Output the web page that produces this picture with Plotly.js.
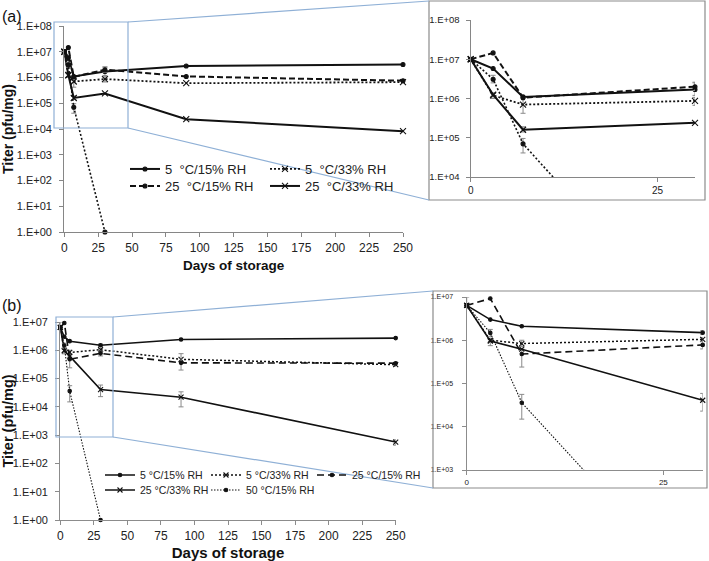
<!DOCTYPE html>
<html><head><meta charset="utf-8">
<script src="https://cdn.plot.ly/plotly-3.0.1.min.js"></script>
<style>html,body{margin:0;padding:0;background:#fff}#chart{width:709px;height:561px}</style>
</head><body><div id="chart"></div>
<script>
// ---------- data ----------
const yTickVals = [1, 10, 100, 1e3, 1e4, 1e5, 1e6, 1e7, 1e8];
const yTickText = ["1.E+00","1.E+01","1.E+02","1.E+03","1.E+04","1.E+05","1.E+06","1.E+07","1.E+08"];
const xTicksMain = [0, 25, 50, 75, 100, 125, 150, 175, 200, 225, 250];
const xTicksInset = [0, 25];

const namesA = ["5\u00a0 °C/15% RH", "5\u00a0 °C/33% RH", "25\u00a0 °C/15% RH", "25\u00a0 °C/33% RH", "50 °C/15% RH"];
const namesB = ["5 °C/15% RH", "5 °C/33% RH", "25 °C/15% RH", "25 °C/33% RH", "50 °C/15% RH"];

// panel (a)
const daysA   = [0, 3, 7, 30, 90, 250];
const a_5c15  = [1.0e7, 5.8e6, 1.1e6, 1.7e6, 2.8e6, 3.2e6];
const a_5c33  = [1.0e7, 1.2e6, 7.0e5, 8.7e5, 6.0e5, 6.6e5];
const a_25c15 = [1.0e7, 1.45e7, 1.05e6, 2.0e6, 1.1e6, 7.5e5];
const a_25c33 = [1.0e7, 1.25e6, 1.6e5, 2.4e5, 2.4e4, 8.2e3];
const daysA50 = [0, 3, 7, 30];
const a_50c15 = [1.0e7, 3.1e6, 7.0e4, 1];
// error bars (a)  (NaN = none)
const aErr_5c15_p  = [NaN, NaN, NaN, 8e5, NaN, NaN];
const aErr_5c15_m  = [NaN, NaN, NaN, 5e5, NaN, NaN];
const aErr_5c33_p  = [NaN, 2e5, 3.5e5, 2e5, NaN, NaN];
const aErr_5c33_m  = [NaN, 2e5, 2.8e5, 2e5, NaN, NaN];
const aErr_25c15_p = [NaN, NaN, NaN, 6e5, NaN, NaN];
const aErr_25c15_m = [NaN, NaN, NaN, 4e5, NaN, NaN];
const aErr_25c33_p = [NaN, NaN, 3e4, NaN, NaN, NaN];
const aErr_25c33_m = [NaN, NaN, 2e4, NaN, NaN, NaN];
const aErr_50c15_p = [NaN, 8e5, 2.6e4, NaN];
const aErr_50c15_m = [NaN, 6e5, 2.9e4, NaN];

// panel (b)
const daysB   = [0, 3, 7, 30, 90, 250];
const b_5c15  = [6.4e6, 3.0e6, 2.1e6, 1.5e6, 2.4e6, 2.7e6];
const b_5c33  = [6.4e6, 1.0e6, 8.4e5, 1.05e6, 4.8e5, 3.1e5];
const b_25c15 = [6.4e6, 9.2e6, 4.8e5, 7.8e5, 3.6e5, 3.5e5];
const b_25c33 = [6.4e6, 9.6e5, 6.2e5, 4.1e4, 2.2e4, 5.7e2];
const daysB50 = [0, 3, 7, 30];
const b_50c15 = [6.4e6, 1.48e6, 3.6e4, 1];
// error bars (b)
const bErr_5c15_p  = [3.6e6, NaN, NaN, 1.5e5, NaN, NaN];
const bErr_5c15_m  = [1.0e6, NaN, NaN, 1.5e5, NaN, NaN];
const bErr_5c33_p  = [NaN, 1e5, 1.6e5, 1e5, NaN, 4e4];
const bErr_5c33_m  = [NaN, 2.5e5, 1.3e5, 1e5, NaN, 4e4];
const bErr_25c15_p = [NaN, NaN, 1.5e5, 1.5e5, 4e5, NaN];
const bErr_25c15_m = [NaN, NaN, 2.4e5, 1.5e5, 1.6e5, NaN];
const bErr_25c33_p = [NaN, NaN, NaN, 1.8e4, 1.2e4, 1.2e2];
const bErr_25c33_m = [NaN, NaN, NaN, 1.8e4, 1.2e4, 1.3e2];
const bErr_50c15_p = [NaN, 3e5, 2e4, NaN];
const bErr_50c15_m = [NaN, 2.8e5, 2.1e4, NaN];

// ---------- layout helpers ----------
const W = 709, H = 561;
const px = v => v / W;
const py = v => 1 - v / H;
const FONT = "Liberation Sans, Arial, sans-serif";

const stylesA = [
  {dash: 'solid', width: 2, symbol: 'circle', msize: 4},
  {dash: '2px,2px', width: 1.8, symbol: 'x-thin-open', msize: 6},
  {dash: '6px,3px', width: 2, symbol: 'circle', msize: 4},
  {dash: 'solid', width: 2, symbol: 'x-thin-open', msize: 6},
  {dash: '2px,2px', width: 1.6, symbol: 'circle', msize: 4}
];
const stylesB = [
  {dash: 'solid', width: 1.6, symbol: 'circle', msize: 3.5},
  {dash: '2px,2px', width: 1.5, symbol: 'x-thin-open', msize: 5},
  {dash: '7px,4px', width: 1.6, symbol: 'circle', msize: 3.5},
  {dash: 'solid', width: 1.6, symbol: 'x-thin-open', msize: 5},
  {dash: '1.5px,1.5px', width: 1.1, symbol: 'circle', msize: 3.5}
];

function tr(x, y, ep, em, s, name, xa, ya, legendName) {
  return {
    type: 'scatter', mode: 'lines+markers', x: x, y: y, name: name,
    xaxis: xa, yaxis: ya, cliponaxis: false,
    line: {color: '#111', width: s.width, dash: s.dash},
    marker: {symbol: s.symbol, size: s.msize, color: '#111', line: {color: '#111', width: 1.1}},
    error_y: {type: 'data', symmetric: false, array: ep, arrayminus: em, color: '#8a8a8a', thickness: 1, width: 2.5},
    showlegend: !!legendName, legend: legendName || 'legend'
  };
}

const A = [
  [daysA, a_5c15, aErr_5c15_p, aErr_5c15_m],
  [daysA, a_5c33, aErr_5c33_p, aErr_5c33_m],
  [daysA, a_25c15, aErr_25c15_p, aErr_25c15_m],
  [daysA, a_25c33, aErr_25c33_p, aErr_25c33_m],
  [daysA50, a_50c15, aErr_50c15_p, aErr_50c15_m]
];
const B = [
  [daysB, b_5c15, bErr_5c15_p, bErr_5c15_m],
  [daysB, b_5c33, bErr_5c33_p, bErr_5c33_m],
  [daysB, b_25c15, bErr_25c15_p, bErr_25c15_m],
  [daysB, b_25c33, bErr_25c33_p, bErr_25c33_m],
  [daysB50, b_50c15, bErr_50c15_p, bErr_50c15_m]
];
const legA = ['legend', 'legend2', 'legend3', 'legend4', null];
const legB = ['legend5', 'legend6', 'legend7', 'legend8', 'legend9'];

const data = [];
A.forEach((s, i) => data.push(tr(s[0], s[1], s[2], s[3], stylesA[i], namesA[i], 'x', 'y', legA[i])));
A.forEach((s, i) => data.push(tr(s[0], s[1], s[2], s[3], stylesA[i], namesA[i], 'x2', 'y2', null)));
B.forEach((s, i) => data.push(tr(s[0], s[1], s[2], s[3], stylesB[i], namesB[i], 'x3', 'y3', legB[i])));
B.forEach((s, i) => data.push(tr(s[0], s[1], s[2], s[3], stylesB[i], namesB[i], 'x4', 'y4', null)));

function xax(domain, range, ticks, size, color, title) {
  const o = {domain: domain, range: range, tickvals: ticks, ticktext: ticks.map(String),
    showline: true, linecolor: color, linewidth: 1.2, ticks: 'outside', ticklen: 4, tickcolor: color,
    showgrid: false, zeroline: false, tickfont: {family: FONT, size: size, color: '#222'}, automargin: false,
    fixedrange: true};
  if (title) o.title = title;
  return o;
}
function yax(domain, range, anchor, size, color, title, standoff) {
  const o = {type: 'log', domain: domain, range: range, anchor: anchor, tickvals: yTickVals, ticktext: yTickText,
    showline: true, linecolor: color, linewidth: 1.2, ticks: 'outside', ticklen: 4, tickcolor: color,
    showgrid: false, zeroline: false, tickfont: {family: FONT, size: size, color: '#222'}, automargin: false,
    ticklabelstandoff: standoff || 3, fixedrange: true};
  if (title) o.title = title;
  return o;
}

function leg(textX, yc, size) {
  return {x: px(textX - 40), xanchor: 'left', y: py(yc), yanchor: 'middle', bgcolor: 'rgba(0,0,0,0)',
    borderwidth: 0, font: {family: FONT, size: size, color: '#222'}, itemwidth: 30, orientation: 'v'};
}

const blue = '#8fb0d6';
const gray = '#8c8c8c';
function rect(x0, y0, x1, y1, color) {
  return {type: 'rect', xref: 'paper', yref: 'paper', x0: px(x0), x1: px(x1), y0: py(y1), y1: py(y0),
    line: {color: color, width: 1.2}, fillcolor: 'rgba(0,0,0,0)', layer: 'above'};
}
function seg(x0, y0, x1, y1) {
  return {type: 'line', xref: 'paper', yref: 'paper', x0: px(x0), x1: px(x1), y0: py(y0), y1: py(y1),
    line: {color: blue, width: 1.2}, layer: 'above'};
}

const layout = {
  width: W, height: H, margin: {l: 0, r: 0, t: 0, b: 0}, paper_bgcolor: '#fff', plot_bgcolor: 'rgba(0,0,0,0)',
  font: {family: FONT, color: '#222'},
  xaxis: xax([px(64.3), px(403)], [0, 250], xTicksMain, 12, '#868686',
    {text: 'Days of storage', font: {family: FONT, size: 13.5, weight: 'bold', color: '#111'}, standoff: 7}),
  yaxis: yax([py(232), py(26)], [0, 8], 'x', 11, '#868686',
    {text: 'Titer (pfu/mg)', font: {family: FONT, size: 14, weight: 'bold', color: '#111'}, standoff: 4}, 5),
  xaxis2: Object.assign(xax([px(470.7), px(695)], [0, 30], xTicksInset, 10, '#868686'), {anchor: 'y2'}),
  yaxis2: yax([py(177), py(20)], [4, 8], 'x2', 9.5, '#868686', null, 4),
  xaxis3: Object.assign(xax([px(60.3), px(395.7)], [0, 250], xTicksMain, 12, '#8c8c8c',
    {text: 'Days of storage', font: {family: FONT, size: 15, weight: 'bold', color: '#111'}, standoff: 6}), {anchor: 'y3'}),
  yaxis3: yax([py(520), py(322)], [0, 7], 'x3', 11, '#8c8c8c',
    {text: 'Titer (pfu/mg)', font: {family: FONT, size: 14.5, weight: 'bold', color: '#111'}, standoff: 3}, 5),
  xaxis4: Object.assign(xax([px(466.7), px(702.7)], [0, 30], xTicksInset, 8, '#8c8c8c'), {anchor: 'y4'}),
  yaxis4: yax([py(470), py(297)], [3, 7], 'x4', 7, '#8c8c8c', null, 7),
  legend: leg(165, 169, 13),
  legend2: leg(305, 169, 13),
  legend3: leg(165, 186, 13),
  legend4: leg(305, 186, 13),
  legend5: leg(140, 475, 10.5),
  legend6: leg(246, 475, 10.5),
  legend7: leg(352, 475, 10.5),
  legend8: leg(140, 490, 10.5),
  legend9: leg(246, 490, 10.5),
  shapes: [
    rect(429, 1, 705, 200, gray),
    rect(54, 22, 128, 128, blue),
    seg(128, 22, 429, 1),
    seg(128, 128, 429, 200),
    rect(433, 291, 707, 488, gray),
    rect(56, 317, 113, 437, blue),
    seg(113, 317, 433, 291),
    seg(113, 437, 433, 488)
  ],
  annotations: [
    {text: '(a)', xref: 'paper', yref: 'paper', x: 0, y: py(16), xanchor: 'left', yanchor: 'middle', showarrow: false,
      font: {family: FONT, size: 16, color: '#111'}},
    {text: '(b)', xref: 'paper', yref: 'paper', x: 0, y: py(305), xanchor: 'left', yanchor: 'middle', showarrow: false,
      font: {family: FONT, size: 16, color: '#111'}}
  ]
};

Plotly.newPlot('chart', data, layout, {displayModeBar: false, staticPlot: true});
</script>
</body></html>
